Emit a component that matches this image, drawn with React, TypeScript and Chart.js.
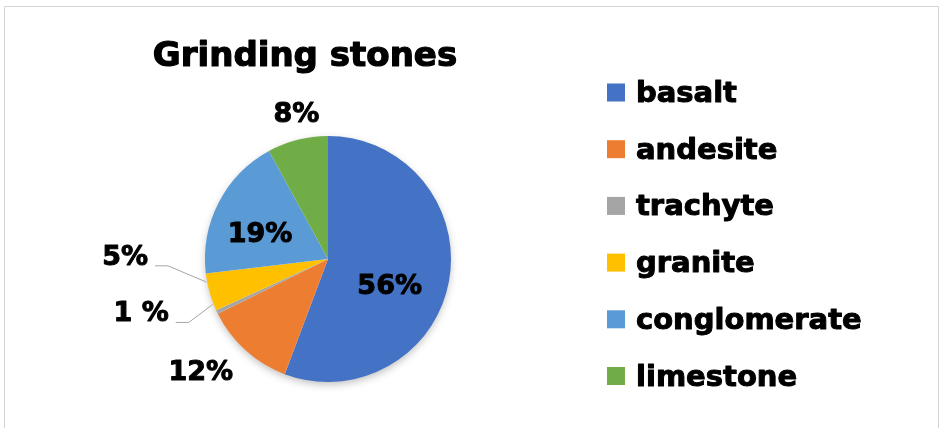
import React, { useEffect, useRef } from "react";
import { Chart, registerables } from "chart.js";

Chart.register(...registerables);

const titleText = "Grinding stones";
const categories = ["basalt", "andesite", "trachyte", "granite", "conglomerate", "limestone"];
const values = [56, 12, 0.5, 5, 19, 8];
const percentLabels = ["56%", "12%", "1 %", "5%", "19%", "8%"];
const colors = ["#4472C4", "#ED7D31", "#A5A5A5", "#FFC000", "#5B9BD5", "#70AD47"];

// label placement: [radius factor, angle shift in degrees from slice middle]
const labelPlacement: [number, number][] = [
  [0.55, 14],
  [1.39, 6],
  [1.585, 9],
  [1.65, 16],
  [0.585, -8],
  [1.2, 2],
];
// leader lines: index -> angle shift of the pie-edge end point
const leaders: Record<number, number> = { 2: 4, 3: 5 };

const FONT = "'DejaVu Sans', sans-serif";

function heavyText(ctx: CanvasRenderingContext2D, text: string, x: number, y: number, sw: number) {
  ctx.lineWidth = sw;
  ctx.lineJoin = "round";
  ctx.strokeStyle = "#000000";
  ctx.strokeText(text, x, y);
  ctx.fillText(text, x, y);
}

const overlayPlugin = {
  id: "overlay",
  beforeDraw(chart: any) {
    const ctx = chart.ctx;
    ctx.save();
    ctx.fillStyle = "#ffffff";
    ctx.fillRect(0, 0, chart.width, chart.height);
    ctx.strokeStyle = "#d4d4d4";
    ctx.lineWidth = 1;
    ctx.beginPath();
    ctx.moveTo(4.5, chart.height + 2);
    ctx.lineTo(4.5, 6.5);
    ctx.lineTo(938.5, 6.5);
    ctx.lineTo(938.5, chart.height + 2);
    ctx.stroke();
    ctx.restore();
  },
  beforeDatasetsDraw(chart: any) {
    const meta = chart.getDatasetMeta(0);
    const el = meta.data[0];
    if (!el) return;
    const { x, y, outerRadius } = el.getProps(["x", "y", "outerRadius"], true);
    const ctx = chart.ctx;
    ctx.save();
    ctx.shadowColor = "rgba(0,0,0,0.28)";
    ctx.shadowBlur = 8;
    ctx.shadowOffsetY = 3;
    ctx.fillStyle = "#ffffff";
    ctx.beginPath();
    ctx.arc(x, y, outerRadius - 1, 0, Math.PI * 2);
    ctx.fill();
    ctx.restore();
  },
  afterDraw(chart: any) {
    const ctx = chart.ctx;
    ctx.save();
    // title
    ctx.fillStyle = "#000000";
    ctx.font = `bold 34px ${FONT}`;
    ctx.textAlign = "center";
    ctx.textBaseline = "alphabetic";
    heavyText(ctx, titleText, 305, 66, 1.2);

    // percent labels
    const meta = chart.getDatasetMeta(0);
    ctx.font = `bold 27px ${FONT}`;
    ctx.textAlign = "center";
    ctx.textBaseline = "middle";
    meta.data.forEach((el: any, i: number) => {
      const p = el.getProps(["x", "y", "startAngle", "endAngle", "outerRadius"], true);
      const mid = (p.startAngle + p.endAngle) / 2;
      const [rf, shift] = labelPlacement[i];
      const a = mid + (shift * Math.PI) / 180;
      const lx = p.x + rf * p.outerRadius * Math.cos(a);
      const ly = p.y + rf * p.outerRadius * Math.sin(a);
      ctx.fillStyle = "#000000";
      heavyText(ctx, percentLabels[i], lx, ly, 1);
      if (leaders[i] !== undefined) {
        const w = ctx.measureText(percentLabels[i]).width;
        const sx = lx + w / 2 + 7;
        const sy = ly + 8;
        const ea = mid + (leaders[i] * Math.PI) / 180;
        const ex = p.x + (p.outerRadius + 1) * Math.cos(ea);
        const ey = p.y + (p.outerRadius + 1) * Math.sin(ea);
        ctx.strokeStyle = "#a6a6a6";
        ctx.lineWidth = 1;
        ctx.beginPath();
        ctx.moveTo(sx, sy);
        ctx.lineTo(sx + 13, sy);
        ctx.lineTo(ex, ey);
        ctx.stroke();
      }
    });

    // legend
    ctx.font = `bold 29px ${FONT}`;
    ctx.textAlign = "left";
    ctx.textBaseline = "alphabetic";
    categories.forEach((c, i) => {
      const base = 102 + i * 56.7;
      ctx.fillStyle = colors[i];
      ctx.fillRect(607, base - 18.5, 18, 18);
      ctx.fillStyle = "#000000";
      heavyText(ctx, c, 636, base, 1);
    });
    ctx.restore();
  },
};

export default function App() {
  const ref = useRef<HTMLCanvasElement | null>(null);
  useEffect(() => {
    document.body.style.margin = "0";
    if (!ref.current) return;
    const chart = new Chart(ref.current, {
      type: "pie",
      data: {
        labels: categories,
        datasets: [
          {
            data: values,
            backgroundColor: colors,
            borderWidth: 0,
          },
        ],
      },
      options: {
        responsive: false,
        animation: false,
        layout: { padding: { left: 205, top: 136, right: 489, bottom: 46 } },
        plugins: {
          legend: { display: false },
          title: { display: false },
          tooltip: { enabled: false },
        },
      },
      plugins: [overlayPlugin],
    });
    return () => chart.destroy();
  }, []);
  return <canvas ref={ref} width={940} height={428} style={{ display: "block" }} />;
}
